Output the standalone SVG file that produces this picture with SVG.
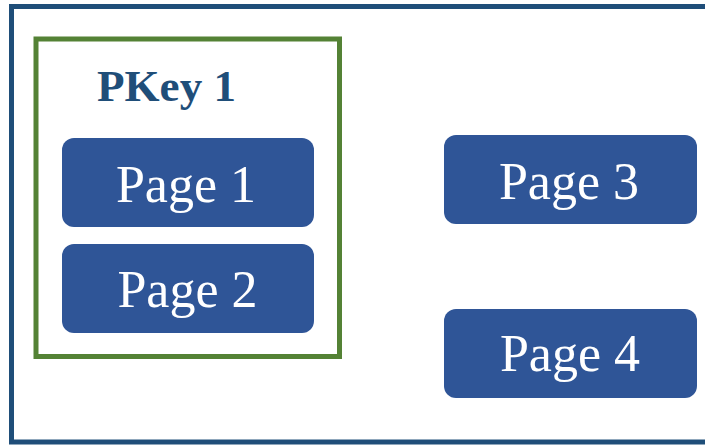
<svg xmlns="http://www.w3.org/2000/svg" width="705" height="445" viewBox="0 0 705 445">
  <style>
    .frame { fill: #ffffff; stroke: #1F4E79; stroke-width: 5; }
    .group { fill: none; stroke: #548235; stroke-width: 5; }
    .page rect { fill: #2F5597; }
    .page text { fill: #ffffff; font-family: "Liberation Serif", "Times New Roman", serif; font-size: 52px; text-anchor: middle; }
    .title { fill: #1F4E79; font-family: "Liberation Serif", Georgia, serif; font-weight: bold; font-size: 45px; }
  </style>
  <rect width="705" height="445" fill="#ffffff"/>
  <!-- outer container, open on the right -->
  <rect id="container" class="frame" x="11.5" y="6.5" width="720" height="435.5"/>

  <!-- partition key group -->
  <g id="pkey1">
    <rect class="group" x="36" y="39" width="303.5" height="317.5"/>
    <text class="title" x="97" y="101" textLength="139" lengthAdjust="spacingAndGlyphs">PKey 1</text>
  </g>

  <g id="page1" class="page">
    <rect x="62" y="138" width="252" height="89" rx="12"/>
    <text x="186" y="201.5">Page 1</text>
  </g>
  <g id="page2" class="page">
    <rect x="62" y="244" width="252" height="89" rx="12"/>
    <text x="187.5" y="307">Page 2</text>
  </g>
  <g id="page3" class="page">
    <rect x="444" y="135" width="253" height="89" rx="12"/>
    <text x="569" y="199">Page 3</text>
  </g>
  <g id="page4" class="page">
    <rect x="444" y="309" width="253" height="89" rx="12"/>
    <text x="570" y="371">Page 4</text>
  </g>

  <g id="connectors"/>
</svg>
